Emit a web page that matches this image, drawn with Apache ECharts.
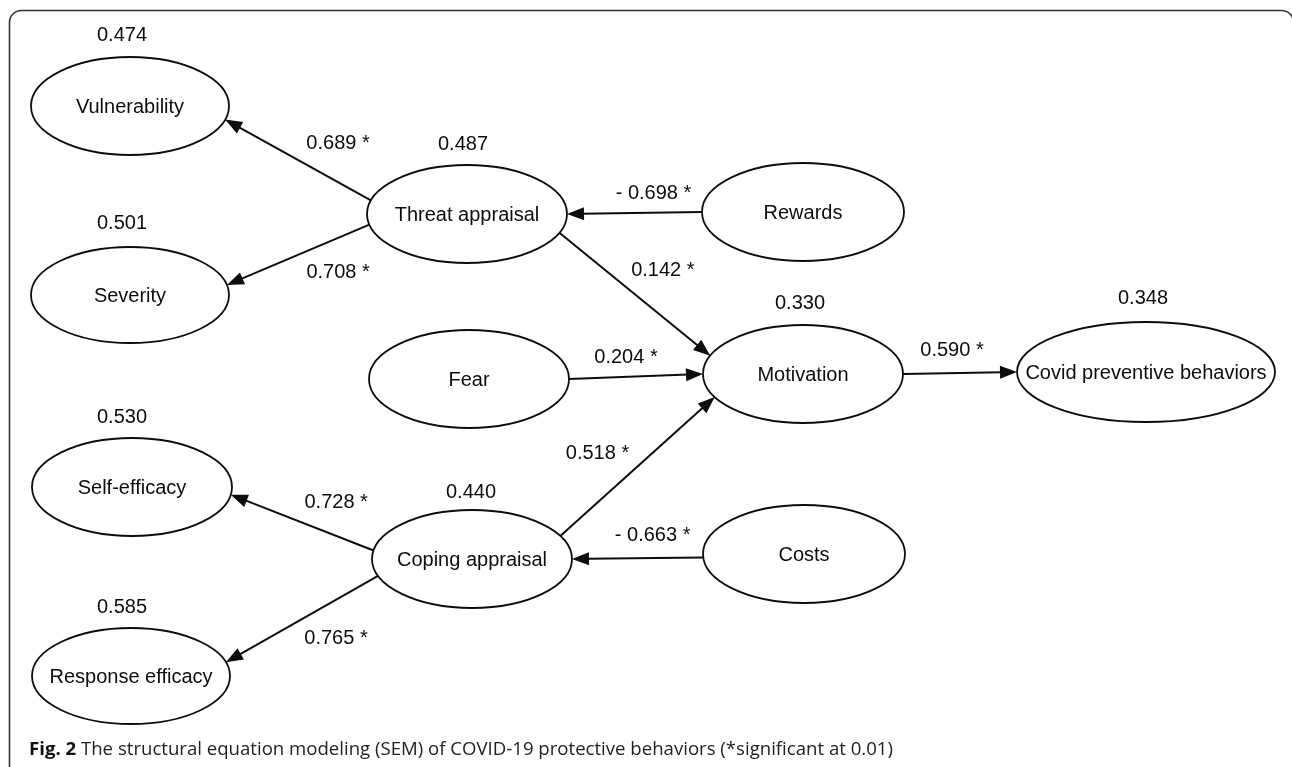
<!DOCTYPE html>
<html>
<head>
<meta charset="utf-8">
<script src="https://cdn.jsdelivr.net/npm/echarts@6/dist/echarts.min.js"></script>
<style>
html,body{margin:0;padding:0;background:#fff;}
#chart{width:1292px;height:767px;}
</style>
</head>
<body>
<div id="chart"></div>
<script>
// ---- data ----
const nodeNames = ['Vulnerability', 'Severity', 'Threat appraisal', 'Rewards', 'Fear', 'Motivation',
  'Covid preventive behaviors', 'Self-efficacy', 'Coping appraisal', 'Costs', 'Response efficacy'];
const rSquared = [0.474, 0.501, 0.487, null, null, 0.330, 0.348, 0.530, 0.440, null, 0.585];
const pathFrom = ['Threat appraisal', 'Threat appraisal', 'Rewards', 'Threat appraisal', 'Fear',
  'Coping appraisal', 'Costs', 'Coping appraisal', 'Coping appraisal', 'Motivation'];
const pathTo = ['Vulnerability', 'Severity', 'Threat appraisal', 'Motivation', 'Motivation',
  'Motivation', 'Coping appraisal', 'Self-efficacy', 'Response efficacy', 'Covid preventive behaviors'];
const pathCoef = [0.689, 0.708, -0.698, 0.142, 0.204, 0.518, -0.663, 0.728, 0.765, 0.590];
const pathSignificant = [true, true, true, true, true, true, true, true, true, true];
const captionBold = 'Fig. 2';
const captionText = ' The structural equation modeling (SEM) of COVID-19 protective behaviors (*significant at 0.01)';

// ---- layout (diagram geometry, in axis units) ----
// [centerX, centerY, radiusX, radiusY, r2LabelDx, r2LabelDy]
const nodeLayout = [
  [130, 106, 99, 49, -8, -71],
  [130, 295, 99, 48, -8, -72],
  [467, 214, 100, 49, -4, -70],
  [803, 212, 101, 49, 0, 0],
  [469, 379, 100, 49, 0, 0],
  [803, 374, 100, 49, -3, -71],
  [1146, 372, 129, 50, -3, -74],
  [132, 487, 100, 49, -10, -70],
  [472, 559, 100, 49, -1, -67],
  [804, 554, 101, 49, 0, 0],
  [131, 676, 99, 48, -9, -69]
];
// [angle on source ellipse, angle on target ellipse, labelDx, labelDy] (deg, y down)
const edgeLayout = [
  [196, 16, 40, -17],
  [167.5, -12, 40, 18],
  [180, 0, 19, -20],
  [22.5, 202, 28, -24],
  [0, 180, -10, -19],
  [-28, 152, -40, -13],
  [176, 0, 15, -23],
  [190, 9, 34, -20],
  [160, -16.5, 34, 19],
  [0, 180, -8, -23]
];

const FONT = '"Liberation Sans", Arial, sans-serif';
const FS = 20;
const INK = '#0d0d0d';

function ellipsePoint(i, deg) {
  const L = nodeLayout[i];
  const a = deg * Math.PI / 180;
  return [L[0] + L[2] * Math.cos(a), L[1] + L[3] * Math.sin(a)];
}
function fmtCoef(v, sig) {
  const s = (v < 0 ? '- ' : '') + Math.abs(v).toFixed(3);
  return sig ? s + ' *' : s;
}

const nodeData = nodeNames.map((n, i) => [nodeLayout[i][0], nodeLayout[i][1], i]);
const edgeData = pathCoef.map((v, i) => [i, v]);

const chart = echarts.init(document.getElementById('chart'), null, {renderer: 'canvas'});
chart.setOption({
  backgroundColor: '#ffffff',
  animation: false,
  title: {
    text: '{b|' + captionBold + '}{r|' + captionText + '}',
    left: 24, top: 735,
    textStyle: {
      rich: {
        b: {fontFamily: '"Open Sans", sans-serif', fontSize: 18.6, fontWeight: 'bold', color: '#111'},
        r: {fontFamily: '"Open Sans", sans-serif', fontSize: 18.6, fontWeight: 'normal', color: '#222'}
      }
    }
  },
  graphic: [{
    type: 'rect', silent: true, z: -10,
    shape: {x: 9.5, y: 10.5, width: 1284, height: 820, r: 12},
    style: {fill: 'none', stroke: '#333', lineWidth: 1.6}
  }],
  grid: {left: 0, right: 0, top: 0, bottom: 0},
  xAxis: {type: 'value', min: 0, max: 1292, show: false},
  yAxis: {type: 'value', min: 0, max: 767, inverse: true, show: false},
  series: [
    {
      type: 'custom',
      name: 'constructs',
      data: nodeData,
      z: 2,
      renderItem: function (params, api) {
        const i = api.value(2);
        const L = nodeLayout[i];
        const c = api.coord([api.value(0), api.value(1)]);
        const s = api.size([L[2], L[3]]);
        const rx = Math.abs(s[0]), ry = Math.abs(s[1]);
        const children = [
          {type: 'ellipse', shape: {cx: c[0], cy: c[1], rx: rx, ry: ry},
            style: {fill: '#fff', stroke: INK, lineWidth: 1.8}},
          {type: 'text', style: {text: nodeNames[i], x: c[0], y: c[1] + 1, align: 'center', verticalAlign: 'middle',
            fontSize: FS, fontFamily: FONT, fill: INK}}
        ];
        if (rSquared[i] != null) {
          const p = api.coord([api.value(0) + L[4], api.value(1) + L[5]]);
          children.push({type: 'text', style: {text: rSquared[i].toFixed(3), x: p[0], y: p[1], align: 'center',
            verticalAlign: 'middle', fontSize: FS, fontFamily: FONT, fill: INK}});
        }
        return {type: 'group', children: children};
      }
    },
    {
      type: 'custom',
      name: 'paths',
      data: edgeData,
      z: 3,
      renderItem: function (params, api) {
        const e = api.value(0);
        const E = edgeLayout[e];
        const si = nodeNames.indexOf(pathFrom[e]);
        const ti = nodeNames.indexOf(pathTo[e]);
        const a = ellipsePoint(si, E[0]);
        const b = ellipsePoint(ti, E[1]);
        const p0 = api.coord(a), p1 = api.coord(b);
        const dx = p1[0] - p0[0], dy = p1[1] - p0[1];
        const len = Math.sqrt(dx * dx + dy * dy);
        const ux = dx / len, uy = dy / len;
        const AL = 17, AW = 6.5;
        const bx = p1[0] - ux * AL, by = p1[1] - uy * AL;
        const mid = api.coord([(a[0] + b[0]) / 2 + E[2], (a[1] + b[1]) / 2 + E[3]]);
        return {type: 'group', children: [
          {type: 'line', shape: {x1: p0[0], y1: p0[1], x2: bx + ux * 2, y2: by + uy * 2},
            style: {stroke: INK, lineWidth: 2}},
          {type: 'polygon', shape: {points: [[p1[0], p1[1]], [bx - uy * AW, by + ux * AW], [bx + uy * AW, by - ux * AW]]},
            style: {fill: INK}},
          {type: 'text', style: {text: fmtCoef(api.value(1), pathSignificant[e]), x: mid[0], y: mid[1],
            align: 'center', verticalAlign: 'middle', fontSize: FS, fontFamily: FONT, fill: INK}}
        ]};
      }
    }
  ]
});
</script>
</body>
</html>
